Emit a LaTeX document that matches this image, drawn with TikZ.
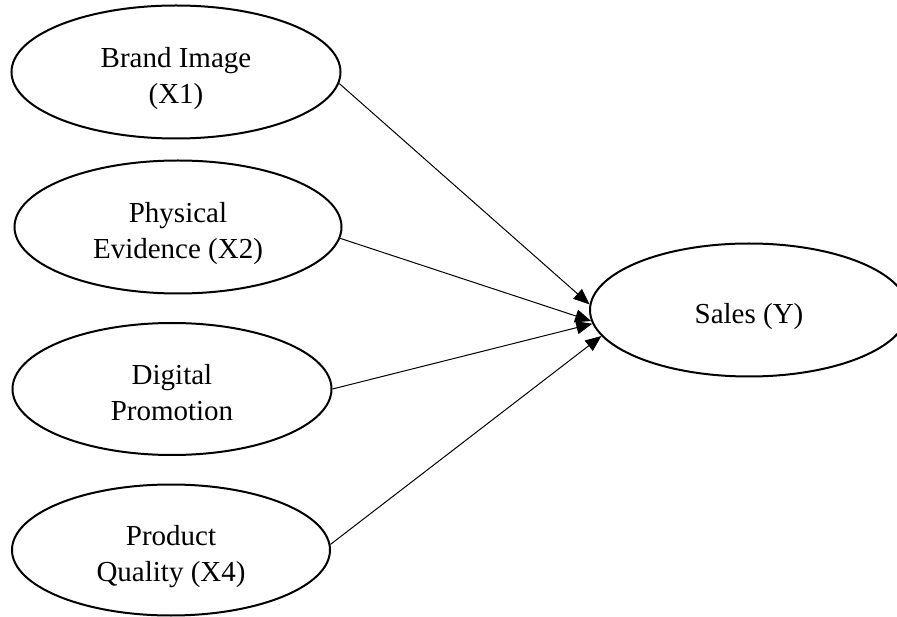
\documentclass[tikz,border=0pt]{standalone}
\usepackage{fontspec}
\setmainfont{Liberation Serif}
\usetikzlibrary{shapes.geometric,arrows.meta}

% teks di dalam elips, sedikit diturunkan
\newcommand{\Lbl}[1]{\raisebox{-6pt}[\height][\depth]{\begin{tabular}{@{}c@{}}#1\end{tabular}}}

\tikzset{
  Construct/.style={ellipse, draw, line width=2pt,
    minimum width=323pt, minimum height=132pt, inner sep=0pt,
    font=\fontsize{29}{36}\selectfont},
  Path/.style={line width=1pt, -{Triangle[length=16pt,width=13pt]}}
}

\begin{document}
\begin{tikzpicture}[x=1pt, y=-1pt]

\useasboundingbox (0, 0) rectangle (897, 617);

\node[Construct, minimum width=329pt, minimum height=133pt] (X1) at (176, 72) {\Lbl{Brand Image\\(X1)}};
\node[Construct, minimum width=327pt, minimum height=133pt] (X2) at (178, 227) {\Lbl{Physical\\Evidence (X2)}};
\node[Construct, minimum width=319pt] (X3) at (172, 389) {\Lbl{Digital\\Promotion}};
\node[Construct, minimum width=318pt, minimum height=131pt] (X4) at (171, 550) {\Lbl{Product\\Quality (X4)}};

\node[Construct, minimum width=318pt, minimum height=133pt] (Y) at (749, 310) {\Lbl{Sales (Y)}};

% Hubungan antar variabel
\draw[Path] (X1.-4) -- (Y.178);
\draw[Path] (X2.-4) -- (Y.184);
\draw[Path] (X3.east) -- (Y.185);
\draw[Path] (X4.2) -- (Y.190);

\end{tikzpicture}
\end{document}
